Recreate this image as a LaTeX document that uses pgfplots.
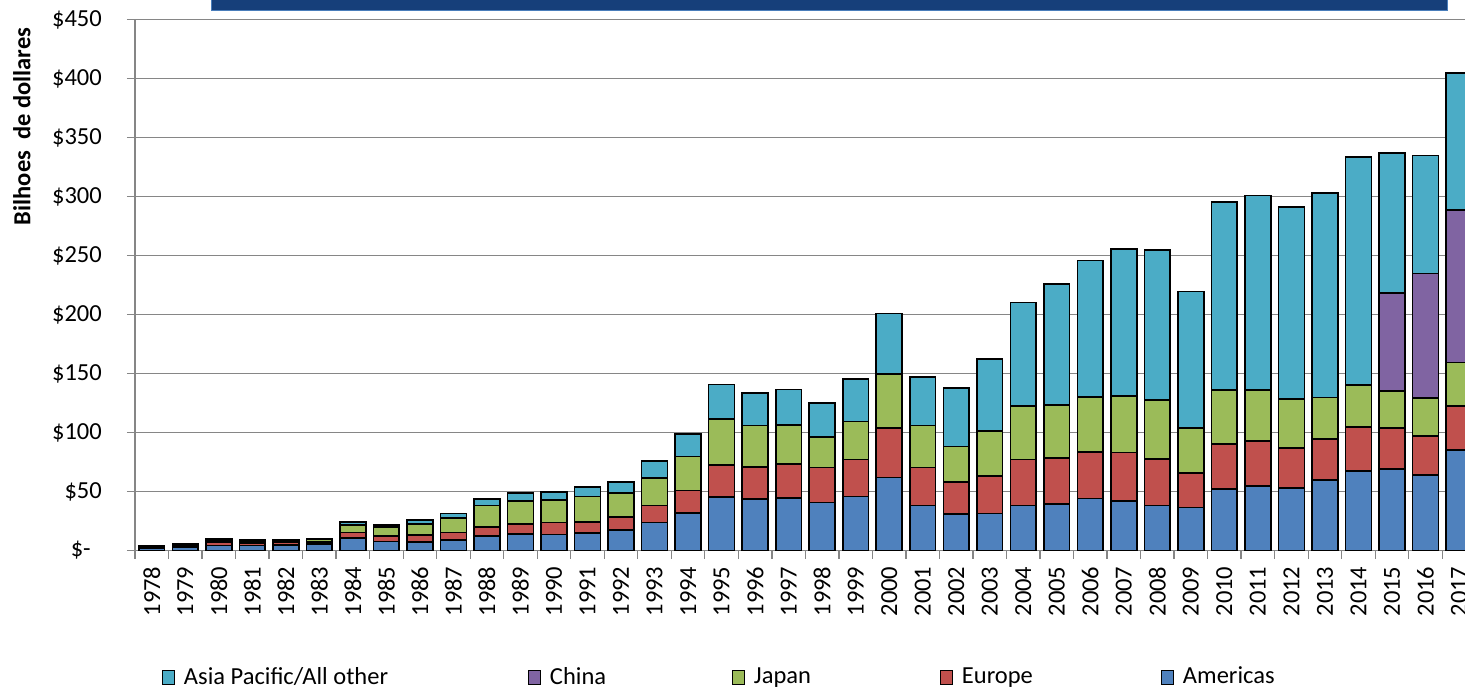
\documentclass[border=0pt]{standalone}
\usepackage{pgfplots}
\pgfplotsset{compat=1.18}
\usepackage{pgfplotstable}
\usepackage{fontspec}
\setmainfont{Carlito}
\definecolor{cAm}{HTML}{4F81BD}
\definecolor{cEu}{HTML}{C0504D}
\definecolor{cJp}{HTML}{9BBB59}
\definecolor{cCn}{HTML}{8064A2}
\definecolor{cAP}{HTML}{4BACC6}
\definecolor{gridgray}{RGB}{134,134,134}
\definecolor{titleblue}{RGB}{22,63,122}
\definecolor{titleborder}{RGB}{74,126,187}
\pgfplotstableread{
x Am Eu Jp Cn AP
0 1.9 0.8 0.6 0 0.5
1 3.0 1.1 0.8 0 0.6
2 4.4 2.8 1.4 0 0.9
3 4.4 2.2 1.4 0 0.9
4 4.5 2.2 1.3 0 0.9
5 5.5 1.7 2.0 0 1.1
6 10.6 4.5 6.5 0 2.8
7 7.5 4.8 7.4 0 1.9
8 7.2 5.7 9.8 0 2.9
9 8.9 6.2 12.4 0 3.7
10 12.3 7.6 18.1 0 5.6
11 14.2 8.5 19.5 0 6.3
12 13.7 9.9 19.2 0 6.8
13 14.6 9.8 21.5 0 7.9
14 17.6 11.0 19.9 0 9.8
15 23.6 14.4 23.2 0 14.4
16 32.0 19.0 28.8 0 18.9
17 45.1 27.4 38.7 0 29.6
18 43.4 27.6 34.8 0 27.9
19 44.7 28.6 33.1 0 30.2
20 40.8 29.7 25.7 0 28.8
21 45.6 31.4 32.2 0 35.9
22 62.0 41.8 45.8 0 51.1
23 38.3 31.9 35.6 0 41.0
24 30.7 27.4 29.9 0 49.7
25 31.2 31.9 38.2 0 61.2
26 38.0 39.0 45.5 0 87.8
27 39.2 39.4 44.7 0 102.3
28 43.9 39.8 46.6 0 115.6
29 41.9 41.0 48.0 0 124.4
30 38.0 39.5 50.0 0 127.4
31 36.3 29.6 37.9 0 115.8
32 51.9 38.1 46.0 0 159.1
33 54.7 38.1 43.0 0 164.9
34 53.2 33.7 41.5 0 162.7
35 59.7 34.8 35.3 0 173.2
36 67.4 37.5 35.1 0 193.5
37 69.1 34.7 31.4 82.8 119.1
38 64.0 33.0 32.0 105.9 99.7
39 85.2 37.5 36.5 129.6 116.1
}\data
\pgfplotsset{
  mybar/.style={fill=#1, draw=black, line width=1.6bp,
    legend image code/.code={\draw[fill=#1,draw=black,line width=1bp] (0bp,-7bp) rectangle (12bp,7bp);}}
}
\begin{document}
\fontsize{24.5bp}{29bp}\selectfont
\begin{tikzpicture}
\useasboundingbox (0,0) rectangle (1465bp,688bp);
\fill[titleblue, draw=titleborder, line width=1bp] (211bp,677bp) rectangle (1447bp,700bp);
\begin{axis}[
  at={(135bp,137.5bp)}, anchor=south west,
  scale only axis, width=1330bp, height=531bp,
  xmin=-0.5, xmax=39.18, ymin=0, ymax=450,
  enlargelimits=false,
  ybar stacked, bar width=0.77,
  axis x line*=bottom, axis y line*=left,
  axis line style={draw=gridgray, line width=1.3bp, -},
  ymajorgrids, grid style={gridgray, line width=1.3bp},
  tick align=outside, major tick length=8bp, minor tick length=8bp,
  ytick={0,50,...,450},
  yticklabels={\makebox[31bp][l]{\$-},\$50,\$100,\$150,\$200,\$250,\$300,\$350,\$400,\$450},
  y tick style={gridgray, line width=1.3bp},
  yticklabel style={anchor=east, inner sep=0pt},
  yticklabel shift=25bp,
  xtick={0,...,39},
  xticklabels={1978,1979,1980,1981,1982,1983,1984,1985,1986,1987,1988,1989,1990,1991,1992,1993,1994,1995,1996,1997,1998,1999,2000,2001,2002,2003,2004,2005,2006,2007,2008,2009,2010,2011,2012,2013,2014,2015,2016,2017},
  major x tick style={draw=none},
  minor xtick={-0.5,0.5,...,39.5},
  minor x tick style={gridgray, line width=1.3bp},
  xticklabel style={rotate=90, anchor=east, inner sep=0pt},
  xticklabel shift=8bp,
  ylabel={\bfseries Bilhoes\ \ de dollares},
  ylabel style={at={(axis description cs:-0.085,0.7987)}, anchor=center},
  legend columns=5,
  reverse legend,
  legend style={at={(axis description cs:0.0203,-0.2390)}, anchor=west,
    draw=none, fill=none, inner sep=0pt, outer sep=0pt,
    nodes={inner sep=0pt, anchor=west}, column sep=0pt,
    /tikz/every odd column/.append style={column sep=9bp}},
]
\addplot[mybar=cAm] table[x=x,y=Am] {\data};
\addlegendentry{Americas}
\addplot[mybar=cEu] table[x=x,y=Eu] {\data};
\addlegendentry{\makebox[199bp][l]{Europe}}
\addplot[mybar=cJp] table[x=x,y=Jp] {\data};
\addlegendentry{\makebox[186bp][l]{Japan}}
\addplot[mybar=cCn] table[x=x,y=Cn] {\data};
\addlegendentry{\makebox[182bp][l]{China}}
\addplot[mybar=cAP] table[x=x,y=AP] {\data};
\addlegendentry{\makebox[344bp][l]{Asia Pacific/All other}}
\end{axis}
\end{tikzpicture}
\end{document}
